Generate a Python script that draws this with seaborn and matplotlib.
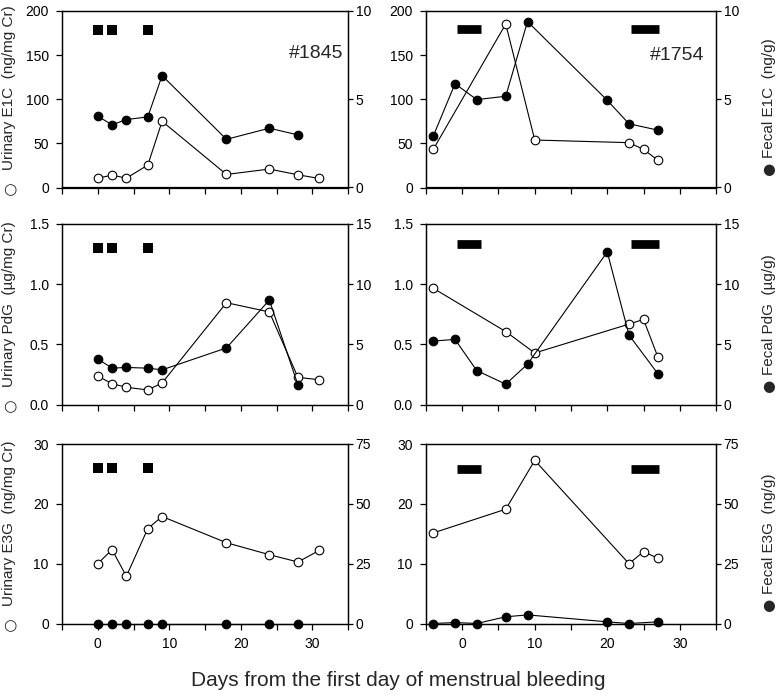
import seaborn as sns
import matplotlib.pyplot as plt

#----------------------
# Data
#----------------------

# monkey #1845
days_1845_urine = [0, 2, 4, 7, 9, 18, 24, 28, 31]
days_1845_fecal = [0, 2, 4, 7, 9, 18, 24, 28]
e1c_urine_1845 = [10.6, 14.0, 10.6, 25.4, 75.0, 14.8, 20.9, 14.4, 10.2]
e1c_fecal_1845 = [4.04, 3.55, 3.85, 4.0, 6.34, 2.73, 3.36, 2.98]
pdg_urine_1845 = [0.236, 0.173, 0.143, 0.121, 0.179, 0.846, 0.769, 0.225, 0.206]
pdg_fecal_1845 = [3.79, 3.02, 3.08, 3.02, 2.88, 4.70, 8.68, 1.62]
e3g_urine_1845 = [10.0, 12.35, 7.88, 15.87, 17.88, 13.5, 11.5, 10.28, 12.23]
e3g_fecal_1845 = [0, 0, 0, 0, 0, 0, 0, 0]
bleed_days_1845 = [0, 2, 7]

# monkey #1754
days_1754_urine = [-4, 6, 10, 23, 25, 27]
days_1754_fecal = [-4, -1, 2, 6, 9, 20, 23, 27]
e1c_urine_1754 = [43.2, 185.3, 53.8, 50.8, 43.2, 30.8]
e1c_fecal_1754 = [2.91, 5.88, 4.98, 5.17, 9.4, 4.94, 3.61, 3.25]
pdg_urine_1754 = [0.966, 0.606, 0.428, 0.668, 0.707, 0.392]
pdg_fecal_1754 = [5.27, 5.41, 2.82, 1.69, 3.35, 12.68, 5.77, 2.54]
e3g_urine_1754 = [15.14, 19.1, 27.26, 10.0, 12.0, 10.9]
e3g_fecal_1754 = [0, 0.4, 0, 2.8, 3.6, 0.7, 0, 0.7]
bleed_start_1754 = [-0.7, 23.3]
bleed_end_1754 = [2.6, 27.2]

# axis settings per hormone row
left_labels = ['Urinary E1C  (ng/mg Cr)',
               'Urinary PdG  (\u00b5g/mg Cr)',
               'Urinary E3G  (ng/mg Cr)']
right_labels = ['Fecal E1C  (ng/g)',
                'Fecal PdG  (\u00b5g/g)',
                'Fecal E3G  (ng/g)']
left_ticks = [[0, 50, 100, 150, 200], [0.0, 0.5, 1.0, 1.5], [0, 10, 20, 30]]
left_ticklabels = [['0', '50', '100', '150', '200'], ['0.0', '0.5', '1.0', '1.5'],
                   ['0', '10', '20', '30']]
right_ticks = [[0, 5, 10], [0, 5, 10, 15], [0, 25, 50, 75]]
bleed_level_1845 = [178, 1.30, 26]
bleed_level_1754 = [180, 1.335, 25.8]

urine_1845 = [e1c_urine_1845, pdg_urine_1845, e3g_urine_1845]
fecal_1845 = [e1c_fecal_1845, pdg_fecal_1845, e3g_fecal_1845]
urine_1754 = [e1c_urine_1754, pdg_urine_1754, e3g_urine_1754]
fecal_1754 = [e1c_fecal_1754, pdg_fecal_1754, e3g_fecal_1754]

x_ticks = [-5, 0, 5, 10, 15, 20, 25, 30, 35]
x_ticklabels = ['', '0', '', '10', '', '20', '', '30', '']

#----------------------
# Style
#----------------------

sns.set_style('ticks')
plt.rcParams['font.family'] = ['Liberation Sans', 'DejaVu Sans']
plt.rcParams['axes.linewidth'] = 0.9
plt.rcParams['xtick.major.width'] = 0.9
plt.rcParams['ytick.major.width'] = 0.9

fig = plt.figure(figsize=(7.8, 6.97), dpi=100)
W, H = 780, 697

rows_px = [(11, 187.5), (224, 404.5), (444, 623.5)]
cols_px = [(62, 348), (426, 716)]

line_kw = dict(color='black', linewidth=0.8, marker='o', markersize=6.2,
               markeredgecolor='black', markeredgewidth=0.8, clip_on=False)


def style_axis(ax, twin, r, show_x):
    ax.set_xlim(-5, 35)
    ax.set_xticks(x_ticks)
    ax.set_xticklabels(x_ticklabels if show_x else [''] * len(x_ticks))
    ax.set_ylim(left_ticks[r][0], left_ticks[r][-1])
    ax.set_yticks(left_ticks[r])
    ax.set_yticklabels(left_ticklabels[r])
    twin.set_ylim(right_ticks[r][0], right_ticks[r][-1])
    twin.set_yticks(right_ticks[r])
    ax.tick_params(direction='out', length=4.5, labelsize=10, pad=5, colors='black')
    twin.tick_params(direction='out', length=3.5, labelsize=10, pad=2, colors='black')
    for a in (ax, twin):
        for s in a.spines.values():
            s.set_visible(True)
            s.set_color('black')
        a.set_xlabel('')
        a.set_ylabel('')


def fx(px):
    return px / W


def fy(px):
    return 1 - px / H


for r in range(3):
    top, bot = rows_px[r]
    show_x = r == 2

    # ---- left column: #1845 ----
    l, rr = cols_px[0]
    ax = fig.add_axes([l / W, 1 - bot / H, (rr - l) / W, (bot - top) / H])
    tw = ax.twinx()
    sns.lineplot(x=days_1845_urine, y=urine_1845[r], ax=ax,
                 markerfacecolor='white', **line_kw)
    sns.lineplot(x=days_1845_fecal, y=fecal_1845[r], ax=tw,
                 markerfacecolor='black', **line_kw)
    sns.scatterplot(x=bleed_days_1845, y=[bleed_level_1845[r]] * len(bleed_days_1845),
                    ax=ax, marker='s', s=55, color='black', linewidth=0)
    style_axis(ax, tw, r, show_x)
    if r == 0:
        ax.text(30.5, 152, '#1845', ha='center', va='center', fontsize=14)

    # urinary axis label with its open-circle key
    fig.text(fx(9.5), fy(bot - 17), left_labels[r], rotation=90,
             ha='center', va='bottom', fontsize=11)
    fig.text(fx(9.5), fy(bot + 2), '\u25cb', ha='center', va='center',
             fontsize=11, family='DejaVu Sans')

    # ---- right column: #1754 ----
    l, rr = cols_px[1]
    ax = fig.add_axes([l / W, 1 - bot / H, (rr - l) / W, (bot - top) / H])
    tw = ax.twinx()
    sns.lineplot(x=days_1754_urine, y=urine_1754[r], ax=ax,
                 markerfacecolor='white', **line_kw)
    sns.lineplot(x=days_1754_fecal, y=fecal_1754[r], ax=tw,
                 markerfacecolor='black', **line_kw)
    ax.hlines([bleed_level_1754[r]] * len(bleed_start_1754), bleed_start_1754,
              bleed_end_1754, colors='black', linewidth=6.3)
    style_axis(ax, tw, r, show_x)
    if r == 0:
        ax.text(29.7, 150, '#1754', ha='center', va='center', fontsize=14)

    # fecal axis label with its filled-circle key
    fig.text(fx(769), fy(bot - 30), right_labels[r], rotation=90,
             ha='center', va='bottom', fontsize=11)
    fig.text(fx(769), fy(bot - 18), '\u25cf', ha='center', va='center',
             fontsize=10.5, family='DejaVu Sans')

fig.text(0.51, 0.024, 'Days from the first day of menstrual bleeding',
         ha='center', va='center', fontsize=15)

plt.savefig('out.png', dpi=100)
